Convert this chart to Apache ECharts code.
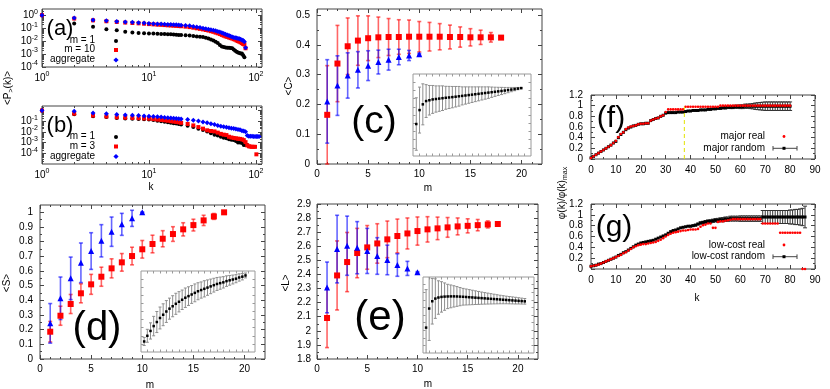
<!DOCTYPE html>
<html>
<head>
<meta charset="utf-8">
<title>chart</title>
<script src="https://cdn.jsdelivr.net/npm/echarts@6.0.0/dist/echarts.min.js"></script>
<style>html,body{margin:0;padding:0;background:#fff;}#chart{width:830px;height:389px;}</style>
</head>
<body>
<div id="chart"></div>
<script>
// ---------------- data ----------------
// (a) cumulative degree distribution, major carriers
const kA = [1,2,3,4,5,6,7,8,9,10,11,12,13,14,15,16,17,18,19,20,22,24,26,28,30,32,34,36,38,40,42,44,46,48,50,52,54,56,58,60,62,64,66,68,70,72,74,76,78,80];
const aM1 = [1,0.23,0.126,0.083,0.07,0.052,0.047,0.042,0.04,0.039,
  0.038,0.037,0.036,0.035,0.034,0.033,0.032,0.031,0.03,0.029,
  0.028,0.027,0.025,0.023,0.022,0.021,0.018,0.016,0.013,0.011,
  0.009,0.007,0.005,0.0038,0.0035,0.0032,0.003,0.003,0.0029,0.0028,
  0.0022,0.0018,0.0015,0.0013,0.0012,0.0011,0.0011,0.0008,0.00056,null];
const aM10 = [1,0.55,0.4,0.34,0.3,0.27,0.25,0.235,0.22,0.205,
  0.195,0.185,0.18,0.172,0.165,0.16,0.155,0.15,0.145,0.14,
  0.13,0.12,0.108,0.097,0.088,0.08,0.072,0.065,0.058,0.052,
  0.045,0.04,0.035,0.03,0.026,0.023,0.021,0.019,0.017,0.016,
  0.014,0.013,0.011,0.01,0.009,0.008,0.007,0.006,0.0055,0.0028];
const aAgg = [1,0.6,0.43,0.37,0.33,0.3,0.28,0.26,0.245,0.23,
  0.22,0.21,0.205,0.2,0.195,0.19,0.185,0.18,0.175,0.17,
  0.16,0.15,0.135,0.12,0.11,0.1,0.09,0.083,0.076,0.07,
  0.062,0.055,0.05,0.044,0.039,0.034,0.03,0.027,0.024,0.021,
  0.019,0.018,0.017,0.016,0.015,0.014,0.012,0.011,0.009,0.003];
// (b) cumulative degree distribution, low-cost carriers
const kB = [1,2,3,4,5,6,7,8,9,10,11,12,13,14,15,16,17,18,19,20,23,26,29,32,35,38,41,44,47,50,53,56,59,62,65,68,71,74,77,80,83,86,89,92,95,98,101,104,107];
const bM1 = [1,0.45,0.29,0.25,0.2,0.18,0.17,0.16,0.15,0.14,
  0.125,0.11,0.1,0.09,0.08,0.072,0.065,0.06,0.055,0.049,
  0.038,0.028,0.02,0.015,0.011,0.0075,0.0055,0.0045,0.0035,0.0028,
  0.0025,0.002,0.0018,0.0017,0.0014,0.001,0.001,0.0009,0.0006,0.0006,
  0.0006,null,null,null,null,null,null,null,null];
const bM3 = [1,0.5,0.33,0.27,0.23,0.21,0.2,0.19,0.18,0.17,
  0.155,0.14,0.13,0.12,0.11,0.1,0.092,0.085,0.078,0.07,
  0.055,0.04,0.028,0.02,0.014,0.012,0.011,0.0085,0.0065,0.0055,
  0.005,0.0035,0.003,0.0027,0.0025,0.0023,0.0022,0.002,0.0017,0.0011,
  0.00055,0.00045,0.00042,0.0004,0.0004,0.0004,0.00008,null,null];
const bAgg = [1,0.83,0.59,0.5,0.42,0.38,0.35,0.33,0.31,0.29,
  0.27,0.255,0.24,0.225,0.21,0.2,0.19,0.18,0.17,0.16,
  0.14,0.12,0.105,0.085,0.07,0.058,0.048,0.04,0.034,0.03,
  0.027,0.024,0.022,0.021,0.019,0.017,0.016,0.013,0.012,0.01,
  0.0045,0.004,0.0038,0.0038,0.0037,0.0037,0.0037,0.0037,0.0037];
// (c),(d),(e) vs m
const mRed = [1,2,3,4,5,6,7,8,9,10,11,12,13,14,15,16,17,18];
const mBlue = [1,2,3,4,5,6,7,8,9,10];
const cRed = [0.165,0.337,0.395,0.414,0.422,0.425,0.426,0.426,0.427,0.427,0.427,0.427,0.426,0.426,0.425,0.425,0.425,0.424];
const cRedErr = [0.165,0.128,0.095,0.083,0.075,0.068,0.062,0.058,0.056,0.051,0.048,0.044,0.04,0.034,0.029,0.024,0.016,0.003];
const cBlue = [0.21,0.263,0.297,0.316,0.33,0.342,0.35,0.359,0.364,0.368];
const cBlueErr = [0.14,0.1,0.076,0.061,0.05,0.04,0.035,0.026,0.017,0.003];
const dRed = [0.186,0.295,0.375,0.448,0.509,0.561,0.618,0.659,0.702,0.748,0.784,0.82,0.852,0.884,0.913,0.945,0.972,1.0];
const dRedErr = [0.07,0.065,0.065,0.065,0.068,0.065,0.065,0.06,0.06,0.06,0.06,0.055,0.05,0.045,0.04,0.035,0.02,0.003];
const dBlue = [0.243,0.414,0.55,0.656,0.736,0.806,0.868,0.918,0.959,1.0];
const dBlueErr = [0.135,0.145,0.145,0.135,0.125,0.11,0.1,0.075,0.055,0.003];
const eRed = [2.091,2.393,2.488,2.552,2.592,2.62,2.649,2.673,2.691,2.708,2.72,2.727,2.734,2.741,2.745,2.75,2.755,2.758];
const eRedErr = [0.21,0.245,0.21,0.175,0.155,0.14,0.13,0.12,0.11,0.1,0.09,0.08,0.07,0.06,0.05,0.04,0.025,0.005];
const eBlue = [2.308,2.58,2.604,2.59,2.567,2.531,2.503,2.467,2.443,2.415];
const eBlueErr = [0.18,0.24,0.21,0.185,0.16,0.13,0.105,0.08,0.05,0.005];
// insets (relative units)
const insetM = [1,2,3,4,5,6,7,8,9,10,11,12,13,14,15,16,17,18,19,20,21,22,23,24,25,26,27,28,29,30,31,32,33];
const cIn = [0.39,0.56,0.63,0.67,0.68,0.69,0.695,0.7,0.705,0.71,0.714,0.718,0.723,0.728,0.733,0.738,0.743,0.748,0.753,0.758,0.763,0.768,0.773,0.778,0.783,0.788,0.793,0.798,0.804,0.81,0.816,0.822,0.828];
const cInErr = [0.32,0.28,0.25,0.2,0.18,0.17,0.16,0.155,0.15,0.14,0.135,0.13,0.125,0.12,0.11,0.105,0.1,0.095,0.09,0.085,0.08,0.075,0.07,0.063,0.056,0.05,0.044,0.038,0.032,0.026,0.02,0.014,0.008];
const dIn = [0.13,0.2,0.26,0.32,0.37,0.42,0.46,0.5,0.535,0.565,0.595,0.62,0.645,0.67,0.69,0.71,0.73,0.75,0.765,0.78,0.795,0.81,0.825,0.84,0.85,0.86,0.875,0.885,0.895,0.905,0.92,0.93,0.945];
const dInErr = [0.05,0.08,0.1,0.12,0.13,0.135,0.135,0.135,0.13,0.13,0.13,0.125,0.12,0.12,0.115,0.11,0.11,0.105,0.1,0.1,0.095,0.09,0.085,0.08,0.075,0.07,0.065,0.06,0.055,0.05,0.045,0.04,0.03];
const eIn = [0.334,0.585,0.681,0.716,0.73,0.738,0.742,0.744,0.745,0.745,0.744,0.742,0.74,0.737,0.734,0.731,0.728,0.725,0.722,0.719,0.716,0.713,0.71,0.707,0.704,0.701,0.698,0.695,0.692,0.689,0.686,0.683,0.68];
const eInErr = [0.5,0.42,0.3,0.26,0.22,0.2,0.18,0.16,0.15,0.14,0.13,0.12,0.11,0.105,0.1,0.095,0.09,0.085,0.08,0.076,0.072,0.068,0.064,0.06,0.056,0.053,0.05,0.048,0.046,0.044,0.041,0.039,0.037];
// (f) major carriers
const fK = [0,1,2,3,4,5,6,7,8,9,10,11,12,13,14,15,16,17,18,19,20,21,22,23,24,25,26,27,28,29,30,31,32,33,34,35,36,37,38,39,40,41,42,43,44,45,46,47,48,49,50,51,52,53,54,55,56,57,58,59,60,61,62,63,64,65,66,67,68,69,70,71,72,73,74,75,76,77,78,79,80];
const fReal = [0.02,0.05,0.08,0.11,0.14,0.17,0.2,0.23,0.26,0.3,
  0.34,0.41,0.47,0.5,0.56,0.59,0.61,0.62,0.63,0.65,
  0.66,0.66,0.67,0.67,0.72,0.74,0.76,0.77,0.8,0.82,
  0.88,0.93,0.93,0.93,0.93,0.93,0.93,0.93,0.98,0.98,
  0.98,0.98,0.98,0.98,0.98,0.98,0.98,0.98,0.98,0.98,
  0.98,0.98,1,1,1,1,1,1,1,1,
  1,1,1,1,1,1,1,1,1,1,
  1,1,1,1,1,1,1,1,1,1,
  1];
const fRand = [0.02,0.05,0.08,0.11,0.14,0.17,0.2,0.23,0.26,0.3,
  0.33,0.4,0.46,0.5,0.55,0.58,0.6,0.62,0.63,0.65,
  0.66,0.66,0.67,0.67,0.72,0.74,0.76,0.77,0.8,0.82,
  0.86,0.87,0.87,0.87,0.87,0.88,0.88,0.88,0.89,0.9,
  0.9,0.91,0.91,0.91,0.92,0.92,0.92,0.93,0.93,0.94,
  0.94,0.95,0.95,0.96,0.96,0.97,0.97,0.97,0.98,0.98,
  0.98,0.98,0.99,0.99,0.99,0.99,0.99,0.99,0.99,0.99,
  0.99,0.99,0.99,0.99,0.99,0.99,0.99,0.99,0.99,0.99,
  0.99];
const fRandErr = [0,0,0,0,0,0,0,0,0,0,
  0,0,0,0,0,0,0,0,0,0,
  0,0,0,0,0,0,0,0,0,0,
  0,0,0,0,0,0,0,0,0,0,
  0,0,0,0,0,0,0,0,0.005,0.005,
  0.01,0.01,0.015,0.015,0.02,0.02,0.025,0.025,0.03,0.03,
  0.035,0.035,0.04,0.04,0.045,0.05,0.06,0.065,0.07,0.075,
  0.08,0.08,0.08,0.08,0.08,0.08,0.08,0.08,0.08,0.08,
  0.08];
const fThresholdK = 37.5;
const fThresholdTop = 0.98;
// (g) low-cost carriers
const gK = [0,1,2,3,4,5,6,7,8,9,10,11,12,13,14,15,16,17,18,19,20,21,22,23,24,25,26,27,28,29,30,31,32,33,34,35,36,37,38,39,40,41,42,43,44,45,46,47,48,49,50,51,52,53,54,55,56,57,58,59,60,61,62,63,64,65,66,67,68,69,70,71,72,73,74,75,76,77,78,79,80,81,82,83,84,85,86];
const gReal = [0.05,0.06,0.07,0.08,0.1,0.12,0.14,0.16,0.18,0.2,
  0.22,0.24,0.26,0.29,0.31,0.34,0.37,0.4,0.42,0.44,
  0.45,0.46,0.46,0.47,0.48,0.49,0.5,0.52,0.54,0.57,
  0.6,0.63,0.65,0.67,0.68,0.69,0.7,0.71,0.71,0.72,
  0.73,0.73,0.73,0.74,0.78,0.81,0.82,0.84,0.84,0.76,
  0.76,0.87,0.88,0.88,0.89,0.9,0.91,0.92,0.92,0.92,
  0.92,0.92,0.92,0.92,0.92,0.92,0.92,0.92,0.92,0.84,
  0.84,0.84,0.84,0.84,0.84,0.84,0.67,0.67,0.67,0.67,
  0.67,0.67,0.67,0.67,0.67,0,0];
const gRand = [0.05,0.06,0.07,0.09,0.1,0.12,0.14,0.16,0.18,0.2,
  0.22,0.25,0.27,0.3,0.32,0.35,0.38,0.41,0.44,0.46,
  0.48,0.49,0.5,0.51,0.52,0.53,0.55,0.57,0.59,0.61,
  0.63,0.66,0.69,0.71,0.72,0.74,0.76,0.77,0.78,0.79,
  0.79,0.8,0.81,0.83,0.85,0.86,0.87,0.88,0.88,0.89,
  0.9,0.9,0.91,0.91,0.92,0.92,0.93,0.93,0.93,0.93,
  0.93,0.93,0.93,0.93,0.93,0.93,0.93,0.93,0.93,0.96,
  0.96,0.96,0.96,0.96,0.96,0.96,0.96,0.96,0.96,0.96,
  0.96,0.96,0.96,0.96,0.96,0.96,0.96];
const gRandErr = [0,0,0,0,0,0,0,0,0,0,
  0,0,0,0,0,0,0,0,0,0,
  0,0,0,0,0,0,0,0,0,0,
  0,0,0,0,0,0,0,0,0,0,
  0.01,0.01,0.015,0.015,0.02,0.02,0.025,0.025,0.03,0.03,
  0.03,0.035,0.035,0.04,0.04,0.04,0.045,0.045,0.045,0.045,
  0.05,0.05,0.05,0.05,0.05,0.05,0.05,0.05,0.05,0.12,
  0.12,0.12,0.12,0.12,0.12,0.12,0.12,0.12,0.12,0.12,
  0.13,0.13,0.14,0.14,0.15,0.16,0.2];
// tick labels
const logKTicks = [1, 10, 100];
const logPaTicks = [1e-4, 1e-3, 1e-2, 1e-1, 1];
const logPbTicks = [1e-5, 1e-4, 1e-3, 1e-2, 1e-1, 1];
const mTicks = [0, 5, 10, 15, 20];
const cTicks = [0, 0.1, 0.2, 0.3, 0.4, 0.5];
const sTicks = [0, 0.1, 0.2, 0.3, 0.4, 0.5, 0.6, 0.7, 0.8, 0.9, 1];
const lTicks = [1.8, 1.9, 2, 2.1, 2.2, 2.3, 2.4, 2.5, 2.6, 2.7, 2.8, 2.9];
const kTicks = [0, 10, 20, 30, 40, 50, 60, 70, 80, 90];
const phiTicks = [0, 0.2, 0.4, 0.6, 0.8, 1, 1.2];

// ---------------- helpers ----------------
const FONT = '"Liberation Sans", Arial, Helvetica, sans-serif';
const FRAME = '#454545';
const grids = [], xAxes = [], yAxes = [], series = [], elements = [];

function mids(t) { const o = []; for (let i = 0; i < t.length - 1; i++) o.push(+((t[i] + t[i + 1]) / 2).toFixed(4)); return o; }
function fineSteps(t, n) { const o = []; for (let i = 0; i < t.length - 1; i++) for (let j = 1; j < n; j++) o.push(+(t[i] + (t[i + 1] - t[i]) * j / n).toFixed(4)); return o; }
function logMinor(lo, hi, max) { const o = []; for (let e = lo; e <= hi; e++) for (let d = 2; d <= 9; d++) { const v = d * Math.pow(10, e); if (v < max) o.push(v); } return o; }
const logFmt = function (v) { const e = Math.round(Math.log10(v)); return '10{s|' + e + '}'; };
const supRich = { s: { fontSize: 7, fontFamily: FONT, color: '#000', padding: [0, 0, 7, 0] } };
const numFmt = function (v) { return String(v); };

function addAxes(list, gi, c, pos, mpos, color) {
  const base = { gridIndex: gi, type: c.type || 'value', min: c.min, max: c.max,
    splitLine: { show: false }, axisLine: { show: false, onZero: false }, silent: true };
  if (c.type === 'log') base.logBase = 10;
  const tick = (vals, len) => ({ show: true, inside: true, length: len, customValues: vals, lineStyle: { color: color, width: 1 } });
  const idx = list.length;
  const lab = { show: !!c.labels, color: '#000', fontSize: 10, fontFamily: FONT, margin: c.margin == null ? 5 : c.margin };
  if (c.labels) { lab.customValues = c.labels; lab.formatter = c.fmt || numFmt; }
  if (c.rich) lab.rich = c.rich;
  list.push(Object.assign({}, base, { position: pos, axisTick: tick(c.major, c.len || 4), axisLabel: lab }));
  list.push(Object.assign({}, base, { position: mpos, axisTick: tick(c.major, c.len || 4), axisLabel: { show: false } }));
  if (c.minor && c.minor.length) {
    list.push(Object.assign({}, base, { position: pos, axisTick: tick(c.minor, c.mlen || 2), axisLabel: { show: false } }));
    list.push(Object.assign({}, base, { position: mpos, axisTick: tick(c.minor, c.mlen || 2), axisLabel: { show: false } }));
  }
  return idx;
}
function panel(rect, xc, yc, frame) {
  const gi = grids.length;
  const col = frame || FRAME;
  grids.push({ left: rect[0], top: rect[1], width: rect[2], height: rect[3], show: true,
    borderColor: col, borderWidth: 1, backgroundColor: 'transparent', containLabel: false });
  return { xi: addAxes(xAxes, gi, xc, 'bottom', 'top', col), yi: addAxes(yAxes, gi, yc, 'left', 'right', col) };
}
function zip(xs, ys, es) {
  const o = [];
  for (let i = 0; i < xs.length; i++) { if (ys[i] == null) continue; o.push(es ? [xs[i], ys[i], es[i]] : [xs[i], ys[i]]); }
  return o;
}
function scatter(p, xs, ys, sym, size, color, z) {
  series.push({ type: 'scatter', xAxisIndex: p.xi, yAxisIndex: p.yi, data: zip(xs, ys), symbol: sym, symbolSize: size,
    itemStyle: { color: color, opacity: 1, borderWidth: 0 }, silent: true, z: z, clip: false, animation: false });
}
function errbars(p, xs, ys, es, color, lw, cap, z, clip) {
  series.push({ type: 'custom', xAxisIndex: p.xi, yAxisIndex: p.yi, data: zip(xs, ys, es), silent: true, z: z, clip: !!clip,
    encode: { x: 0, y: 1 }, animation: false,
    renderItem: function (params, api) {
      const x = api.value(0), y = api.value(1), e = api.value(2);
      if (!(e > 0)) return null;
      const a = api.coord([x, y + e]), b = api.coord([x, y - e]);
      const st = { stroke: color, lineWidth: lw, fill: null };
      return { type: 'group', children: [
        { type: 'line', shape: { x1: a[0], y1: a[1], x2: b[0], y2: b[1] }, style: st },
        { type: 'line', shape: { x1: a[0] - cap, y1: a[1], x2: a[0] + cap, y2: a[1] }, style: st },
        { type: 'line', shape: { x1: b[0] - cap, y1: b[1], x2: b[0] + cap, y2: b[1] }, style: st }
      ] };
    } });
}
function text(x, y, s, size, opt) {
  opt = opt || {};
  elements.push({ type: 'text', x: x, y: y, rotation: opt.rot || 0, silent: true, z: 20,
    style: { text: s, fill: '#000', fontSize: size, fontFamily: FONT, align: opt.align || 'center', verticalAlign: 'middle', rich: opt.rich } });
}

// ---------------- panels ----------------
const logX = { type: 'log', min: 1, max: 114, major: logKTicks, minor: logMinor(0, 1, 114), labels: logKTicks, fmt: logFmt, rich: supRich, margin: 4 };
const pa = panel([42, 9, 220, 58], logX,
  { type: 'log', min: 0.0000999, max: 3, major: logPaTicks, minor: logMinor(-4, 0, 3), labels: logPaTicks, fmt: logFmt, rich: supRich, margin: 4 });
const pb = panel([42, 106, 220, 58], logX,
  { type: 'log', min: 0.00000999, max: 2.6, major: logPbTicks, minor: logMinor(-5, 0, 2.6), labels: logPbTicks, fmt: logFmt, rich: supRich, margin: 4 });

const mAxis = { min: 0, max: 22, major: mTicks, minor: fineSteps([0, 5, 10, 15, 20, 25], 5).filter(v => v < 22), labels: mTicks, margin: 5 };
const pc = panel([317, 9, 225, 155], mAxis, { min: 0, max: 0.52, major: cTicks, minor: mids(cTicks), labels: cTicks, margin: 7 });
const pd = panel([40, 205, 225, 154], mAxis, { min: 0, max: 1.05, major: sTicks, minor: mids(sTicks), labels: sTicks, margin: 7 });
const pe = panel([317, 204, 221, 155], mAxis, { min: 1.8, max: 2.9, major: lTicks, minor: mids(lTicks), labels: lTicks, margin: 6 });

const kAxis = { min: 0, max: 90, major: kTicks, minor: mids(kTicks), labels: kTicks, margin: 6 };
const phiAxis = { min: 0, max: 1.2, major: phiTicks, minor: mids(phiTicks), labels: phiTicks, margin: 8 };
const pf = panel([591, 95, 224, 64], kAxis, phiAxis);
const pg = panel([591, 204, 224, 65], kAxis, phiAxis);

const inX = { min: 0, max: 36, major: [2,4,6,8,10,12,14,16,18,20,22,24,26,28,30,32,34], len: 2.5 };
const inY = { min: 0, max: 1, major: [0.1,0.2,0.3,0.4,0.5,0.6,0.7,0.8,0.9], len: 2.5 };
const ic = panel([413, 74, 118, 82], inX, inY, '#9a9a9a');
const id = panel([141, 271, 114, 81], inX, inY, '#9a9a9a');
const ie = panel([423, 277, 111, 76], inX, inY, '#9a9a9a');

// ---------------- series ----------------
scatter(pa, kA, aM1, 'circle', 4, '#000', 3);
scatter(pa, kA, aM10, 'rect', 4, '#ff0000', 4);
scatter(pa, kA, aAgg, 'diamond', 5, '#0000ff', 5);
scatter(pb, kB, bM1, 'circle', 4, '#000', 3);
scatter(pb, kB, bM3, 'rect', 4, '#ff0000', 4);
scatter(pb, kB, bAgg, 'diamond', 5, '#0000ff', 5);

const RB = 'rgba(255,0,0,0.6)', BB = 'rgba(0,0,255,0.6)';
[[pc, cRed, cRedErr, cBlue, cBlueErr], [pd, dRed, dRedErr, dBlue, dBlueErr], [pe, eRed, eRedErr, eBlue, eBlueErr]].forEach(function (r) {
  errbars(r[0], mRed, r[1], r[2], RB, 1.6, 2, 2);
  errbars(r[0], mBlue, r[3], r[4], BB, 1.6, 2, 2);
  scatter(r[0], mRed, r[1], 'rect', 6, '#ff0000', 3);
  scatter(r[0], mBlue, r[3], 'triangle', 6, '#0000ff', 4);
});
[[ic, cIn, cInErr], [id, dIn, dInErr], [ie, eIn, eInErr]].forEach(function (r) {
  errbars(r[0], insetM, r[1], r[2], '#8e8e8e', 1, 1.5, 6, true);
  scatter(r[0], insetM, r[1], 'rect', 2.5, '#000', 7);
});

errbars(pf, fK, fRand, fRandErr, '#333', 1, 2, 2);
scatter(pf, fK, fRand, 'rect', 3, '#000', 3);
scatter(pf, fK, fReal, 'circle', 2.6, '#ff0000', 4);
series.push({ type: 'line', xAxisIndex: pf.xi, yAxisIndex: pf.yi, data: [[fThresholdK, 0], [fThresholdK, fThresholdTop]],
  symbol: 'none', silent: true, z: 5, animation: false, lineStyle: { color: '#e3e300', width: 1, type: [4, 3] } });
errbars(pg, gK, gRand, gRandErr, '#333', 1, 2, 2);
scatter(pg, gK, gRand, 'rect', 3, '#000', 3);
scatter(pg, gK, gReal, 'circle', 2.6, '#ff0000', 4);

// ---------------- text & legends ----------------
text(60, 29, '(a)', 22);
text(60, 126, '(b)', 22);
text(374, 122, '(c)', 39);
text(97, 329, '(d)', 40);
text(380, 318, '(e)', 42);
text(611, 119, '(f)', 30);
text(614, 228, '(g)', 30);

const subRich = { u: { fontSize: 7, fontFamily: FONT, fill: '#000', padding: [6, 0, 0, 0] } };
text(8, 88, '<P{u|>}(k)>', 10, { rot: Math.PI / 2, rich: subRich });
text(151, 187, 'k', 10);
text(289, 86, '<C>', 10, { rot: Math.PI / 2 });
text(428, 188, 'm', 10);
text(7, 283, '<S>', 10, { rot: Math.PI / 2 });
text(150, 385, 'm', 10);
text(286, 283, '<L>', 10, { rot: Math.PI / 2 });
text(428, 384, 'm', 10);
text(697, 298, 'k', 10);
text(562, 193, '\u03c6(k)/\u03c6(k){u|max}', 10, { rot: Math.PI / 2, rich: subRich });

function legendText(x, y, s) { text(x, y, s, 10, { align: 'right' }); }
function dot(x, y, r, c) { elements.push({ type: 'circle', silent: true, z: 20, shape: { cx: x, cy: y, r: r }, style: { fill: c } }); }
function sq(x, y, h, c) { elements.push({ type: 'rect', silent: true, z: 20, shape: { x: x - h, y: y - h, width: 2 * h, height: 2 * h }, style: { fill: c } }); }
function dia(x, y, h, c) { elements.push({ type: 'polygon', silent: true, z: 20, shape: { points: [[x, y - h], [x + h, y], [x, y + h], [x - h, y]] }, style: { fill: c } }); }
function seg(x1, y1, x2, y2, c) { elements.push({ type: 'line', silent: true, z: 20, shape: { x1: x1, y1: y1, x2: x2, y2: y2 }, style: { stroke: c, lineWidth: 1 } }); }

legendText(95, 40, 'm = 1'); dot(116, 41, 2, '#000');
legendText(95, 49.5, 'm = 10'); sq(116, 50, 2, '#ff0000');
legendText(95, 59, 'aggregate'); dia(116, 60, 2.6, '#0000ff');
legendText(95, 136.5, 'm = 1'); dot(116, 137, 2, '#000');
legendText(95, 146.5, 'm = 3'); sq(116, 146.5, 2, '#ff0000');
legendText(95, 156.5, 'aggregate'); dia(116, 156.5, 2.6, '#0000ff');

legendText(765, 136.5, 'major real'); dot(784, 136.5, 1.4, '#ff0000');
legendText(765, 148.3, 'major random'); seg(773, 148.3, 797, 148.3, '#444'); seg(773, 146, 773, 150.6, '#444'); seg(797, 146, 797, 150.6, '#444'); sq(784, 148.3, 1.5, '#000');
legendText(765, 245, 'low-cost real'); dot(784, 245, 1.4, '#ff0000');
legendText(765, 256.7, 'low-cost random'); seg(773, 256.7, 797, 256.7, '#444'); seg(773, 254.4, 773, 259, '#444'); seg(797, 254.4, 797, 259, '#444'); sq(784, 256.7, 1.5, '#000');

const chart = echarts.init(document.getElementById('chart'), null, { renderer: 'canvas', width: 830, height: 389 });
chart.setOption({
  animation: false,
  backgroundColor: '#ffffff',
  textStyle: { fontFamily: FONT },
  grid: grids,
  xAxis: xAxes,
  yAxis: yAxes,
  series: series,
  graphic: { elements: elements }
});
</script>
</body>
</html>
